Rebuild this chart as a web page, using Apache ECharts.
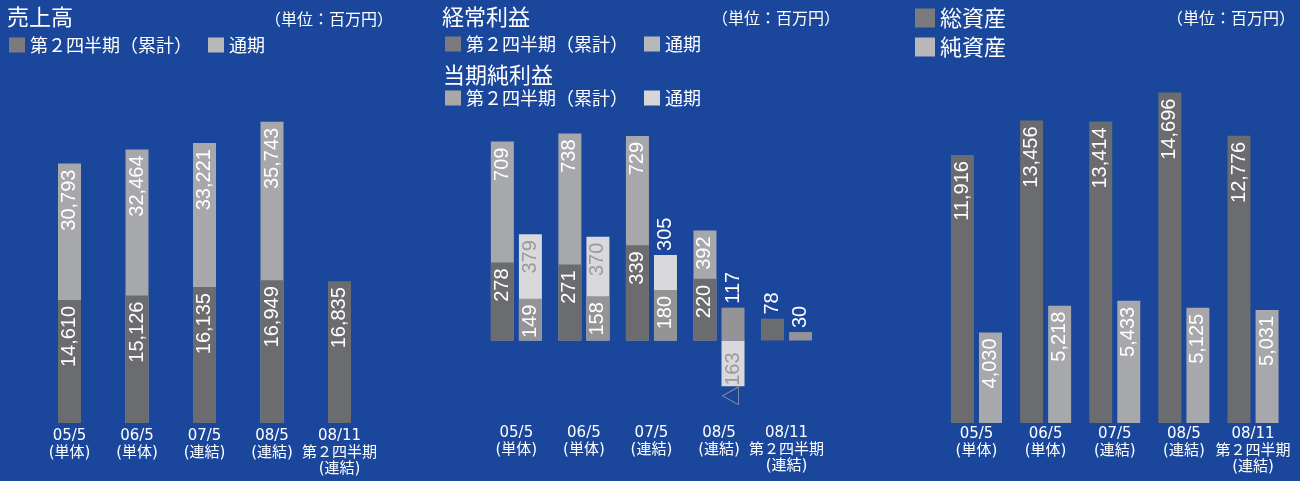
<!DOCTYPE html>
<html>
<head>
<meta charset="utf-8">
<script src="https://cdn.jsdelivr.net/npm/echarts@6/dist/echarts.min.js"></script>
<style>
html, body { margin: 0; padding: 0; background: #1a469b; }
#main { width: 1300px; height: 481px; }
</style>
</head>
<body>
<div id="main"></div>
<script>
// 決算期
var categories = ['05/5\n(単体)', '06/5\n(単体)', '07/5\n(連結)', '08/5\n(連結)', '08/11\n第２四半期\n(連結)']

// 売上高
var salesQ2 = [14610, 15126, 16135, 16949, 16835]
var salesFull = [30793, 32464, 33221, 35743, null]
// 経常利益
var ordinaryQ2 = [278, 271, 339, 220, 78]
var ordinaryFull = [709, 738, 729, 392, null]
// 当期純利益
var netQ2 = [149, 158, 180, 117, 30]
var netFull = [379, 370, 305, -163, null]
// 総資産・純資産
var totalAssets = [11916, 13456, 13414, 14696, 12776]
var netAssets = [4030, 5218, 5433, 5125, 5031]

var numFont = '"Liberation Sans", "Noto Sans CJK JP", sans-serif'
var axisFont = '"DejaVu Sans", "Noto Sans CJK JP", sans-serif'
var jpFont = '"Noto Sans CJK JP", sans-serif'
var DARK = '#6b6c70'
var LIGHT = '#a7a8ac'
var MID = '#949497'
var PALE = '#d9d9db'

function fmt (v) {
  var s = Math.abs(v).toLocaleString('en-US')
  return v < 0 ? '△' + s : s
}

// 縦書き(90度回転)の数値ラベル
function valueLabel (color) {
  return {
    show: true,
    position: 'insideTop',
    rotate: 90,
    align: 'right',
    verticalAlign: 'middle',
    distance: 6,
    color: color || '#fff',
    fontSize: 20,
    fontFamily: numFont,
    formatter: function (p) { return fmt(p.value) }
  }
}

// 見える部分が短い棒はラベルを外側に出す
function withLabels (values, under, insideColor) {
  return values.map(function (v, i) {
    if (v === null) return null
    var visible = under ? v - under[i] : v
    if (v < 0) {
      return { value: v, label: { distance: 12, color: insideColor } }
    }
    if (visible < 135) {
      return { value: v, label: { position: 'top', align: 'left', distance: 4, color: '#fff' } }
    }
    return { value: v, label: { color: insideColor } }
  })
}

function catAxis (gridIndex, margin, show) {
  return {
    type: 'category',
    gridIndex: gridIndex,
    data: categories,
    show: show !== false,
    axisLine: { show: false },
    axisTick: { show: false },
    axisLabel: {
      margin: margin,
      color: '#fff',
      fontSize: 15,
      lineHeight: 16.5,
      fontFamily: axisFont,
      interval: 0
    }
  }
}

function valAxis (gridIndex, min, max) {
  return {
    type: 'value',
    gridIndex: gridIndex,
    min: min,
    max: max,
    show: false,
    splitLine: { show: false }
  }
}

function legendText (name) { return name.split('・').pop() }

var titleStyle = { color: '#fff', fontSize: 22, fontWeight: 'normal', fontFamily: jpFont }
var unitStyle = { color: '#fff', fontSize: 16, fontWeight: 'normal', fontFamily: jpFont }
var legendStyle = { color: '#fff', fontSize: 18, fontFamily: jpFont }

var option = {
  backgroundColor: '#1a469b',
  animation: false,
  title: [
    { text: '売上高', left: 7, top: 6, padding: 0, textStyle: titleStyle },
    { text: '（単位：百万円）', left: 265, top: 11, padding: 0, textStyle: unitStyle },
    { text: '経常利益', left: 442, top: 6, padding: 0, textStyle: titleStyle },
    { text: '（単位：百万円）', left: 712, top: 10, padding: 0, textStyle: unitStyle },
    { text: '当期純利益', left: 443, top: 64, padding: 0, textStyle: titleStyle },
    { text: '（単位：百万円）', left: 1167, top: 10, padding: 0, textStyle: unitStyle }
  ],
  legend: [
    {
      left: 9, top: 36, padding: 0, itemGap: 16, itemWidth: 16, itemHeight: 15,
      icon: 'rect', selectedMode: false, textStyle: legendStyle, formatter: legendText,
      data: [
        { name: '売上高・第２四半期（累計）', itemStyle: { color: '#7b7b7e' } },
        { name: '売上高・通期', itemStyle: { color: '#b8b8bb' } }
      ]
    },
    {
      left: 445, top: 35, padding: 0, itemGap: 16, itemWidth: 16, itemHeight: 15,
      icon: 'rect', selectedMode: false, textStyle: legendStyle, formatter: legendText,
      data: [
        { name: '経常利益・第２四半期（累計）', itemStyle: { color: '#7b7b7e' } },
        { name: '経常利益・通期', itemStyle: { color: '#b8b8bb' } }
      ]
    },
    {
      left: 445, top: 89, padding: 0, itemGap: 16, itemWidth: 16, itemHeight: 15,
      icon: 'rect', selectedMode: false, textStyle: legendStyle, formatter: legendText,
      data: [
        { name: '当期純利益・第２四半期（累計）', itemStyle: { color: '#a8a8ab' } },
        { name: '当期純利益・通期', itemStyle: { color: '#d6d6d8' } }
      ]
    },
    {
      left: 915, top: 7, padding: 0, orient: 'vertical', itemGap: 7, itemWidth: 20, itemHeight: 19,
      icon: 'rect', selectedMode: false,
      textStyle: { color: '#fff', fontSize: 22, fontFamily: jpFont },
      data: [
        { name: '総資産', itemStyle: { color: '#7b7b7e' } },
        { name: '純資産', itemStyle: { color: '#b8b8bb' } }
      ]
    }
  ],
  grid: [
    { left: 35.75, right: 926.75, top: 86, bottom: 58 },
    { left: 482.6, right: 479.7, top: 116, bottom: 58 },
    { left: 941.9, right: 12.4, top: 63.3, bottom: 58 }
  ],
  xAxis: [
    catAxis(0, 5),
    catAxis(1, 2),
    catAxis(1, 2, false),
    catAxis(2, 3)
  ],
  yAxis: [
    valAxis(0, 0, 40000),
    valAxis(1, -294, 800),
    valAxis(2, 0, 16000)
  ],
  series: [
    // 売上高: 通期の棒の上に第２四半期を重ねる
    {
      name: '売上高・通期', type: 'bar', xAxisIndex: 0, yAxisIndex: 0,
      barWidth: 23, barGap: '-100%', itemStyle: { color: LIGHT },
      label: valueLabel('#fff'), data: salesFull
    },
    {
      name: '売上高・第２四半期（累計）', type: 'bar', xAxisIndex: 0, yAxisIndex: 0,
      barWidth: 23, barGap: '-100%', itemStyle: { color: DARK },
      label: valueLabel('#fff'), data: salesQ2
    },
    // 経常利益・当期純利益
    {
      name: '経常利益・通期', type: 'bar', xAxisIndex: 1, yAxisIndex: 1,
      barWidth: 23, barGap: '22%', itemStyle: { color: LIGHT },
      label: valueLabel('#fff'), data: withLabels(ordinaryFull, ordinaryQ2, '#fff')
    },
    {
      name: '当期純利益・通期', type: 'bar', xAxisIndex: 1, yAxisIndex: 1,
      barWidth: 23, barGap: '22%', itemStyle: { color: PALE },
      label: valueLabel('#9a9a9d'), data: withLabels(netFull, netQ2, '#9a9a9d')
    },
    {
      name: '経常利益・第２四半期（累計）', type: 'bar', xAxisIndex: 2, yAxisIndex: 1,
      barWidth: 23, barGap: '22%', itemStyle: { color: DARK },
      label: valueLabel('#fff'), data: withLabels(ordinaryQ2, null, '#fff')
    },
    {
      name: '当期純利益・第２四半期（累計）', type: 'bar', xAxisIndex: 2, yAxisIndex: 1,
      barWidth: 23, barGap: '22%', itemStyle: { color: MID },
      label: valueLabel('#fff'), data: withLabels(netQ2, null, '#fff')
    },
    // 総資産・純資産
    {
      name: '総資産', type: 'bar', xAxisIndex: 3, yAxisIndex: 2,
      barWidth: 23, barGap: '22%', itemStyle: { color: DARK },
      label: valueLabel('#fff'), data: totalAssets
    },
    {
      name: '純資産', type: 'bar', xAxisIndex: 3, yAxisIndex: 2,
      barWidth: 23, barGap: '22%', itemStyle: { color: LIGHT },
      label: valueLabel('#fff'), data: netAssets
    }
  ]
}

var chart = echarts.init(document.getElementById('main'))
chart.setOption(option)
window.addEventListener('resize', function () {
  chart.resize()
})
</script>
</body>
</html>
